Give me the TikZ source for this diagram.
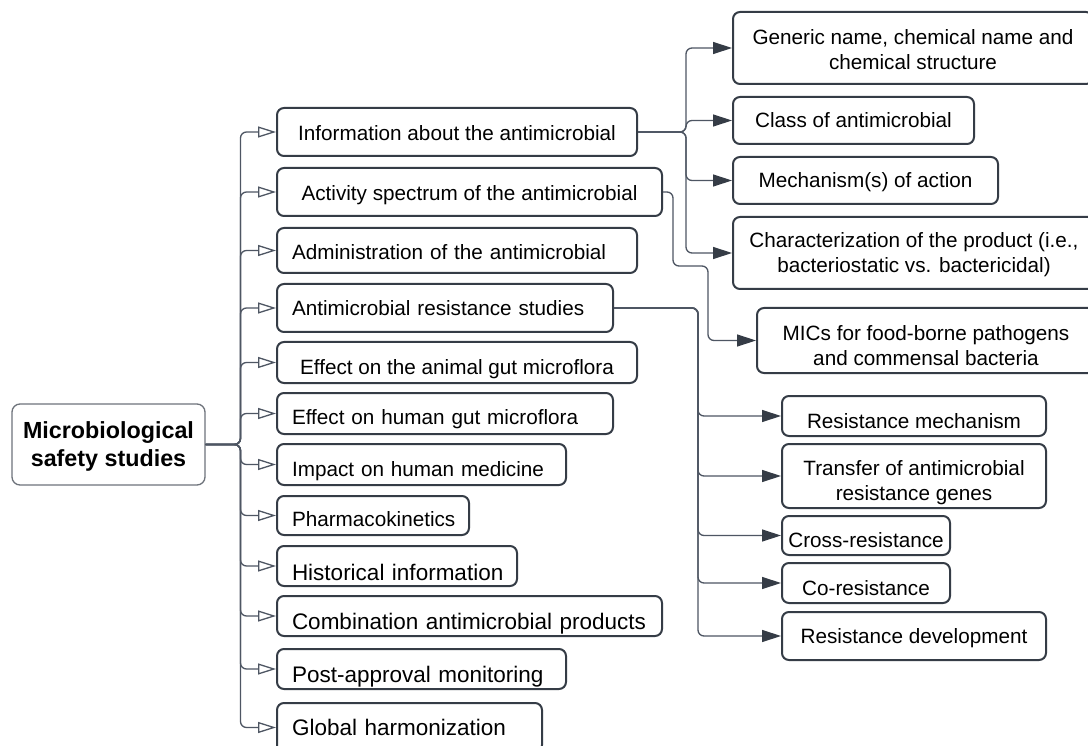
\documentclass[tikz,border=0pt]{standalone}
\usepackage{fontspec}
\setmainfont{Liberation Sans}
\usetikzlibrary{arrows.meta}
\definecolor{bordc}{HTML}{353C46}
\definecolor{linec}{HTML}{4E5663}
\definecolor{rootc}{HTML}{6E737B}
\newcommand{\dn}[2]{\raisebox{-#1pt}[\height][\depth]{#2}}
\newcommand{\twol}[1]{\begin{tabular}{@{}c@{}}#1\end{tabular}}
\tikzset{
  box/.style={draw=bordc, line width=2pt, rounded corners=7pt, inner sep=0pt, fill=white,
    font=\fontsize{20.7}{25}\selectfont},
  lbox/.style={box, align=left, inner xsep=15pt, text width=#1-30pt, minimum width=#1},
  cbox/.style={box, align=center, minimum width=#1},
  big/.style={font=\fontsize{22.5}{27}\selectfont},
  sl/.style={text height=#1, text depth=5pt},
  trunk/.style={draw=linec, line width=1.3pt, rounded corners=6pt,
    -{Triangle[open, length=18pt, width=11pt, fill=white]}},
  sub/.style={draw=linec, line width=1.3pt, rounded corners=6pt,
    -{Triangle[length=19pt, width=12pt, fill=bordc, color=bordc]}},
}
\begin{document}
\begin{tikzpicture}[x=1pt, y=-1pt]
\useasboundingbox[fill=white] (0,0) rectangle (1088,746);

% root
\node[draw=rootc, line width=1.3pt, rounded corners=8pt, minimum width=193pt, minimum height=81pt,
  inner sep=0pt, align=center, font=\bfseries\fontsize{23.3}{28}\selectfont]
  (root) at (108.5,444.5) {\dn{2.7}{\twol{Microbiological\\safety studies}}};

% level 1
\node[cbox=360pt, minimum height=48pt, sl=22pt] (info) at (457,132) {Information about the antimicrobial};
\node[cbox=385pt, minimum height=48pt, sl=22pt] (act) at (469.5,192) {Activity spectrum of the antimicrobial};
\node[lbox=360pt, minimum height=45pt, sl=23pt] (adm) at (457,250.5) {\mbox{Administration of the antimicrobial}};
\node[lbox=336pt, minimum height=48pt, sl=20pt] (ars) at (445,308) {\mbox{Antimicrobial resistance studies}};
\node[cbox=360pt, minimum height=41pt, sl=29pt] (ani) at (457,362.5) {Effect on the animal gut microflora};
\node[lbox=336pt, minimum height=41pt, sl=27pt] (hum) at (445,413.5) {\mbox{Effect on human gut microflora}};
\node[lbox=289pt, minimum height=41pt, sl=29pt] (imp) at (421.5,464.5) {\mbox{Impact on human medicine}};
\node[lbox=192pt, minimum height=39pt, sl=27pt] (pk) at (373,515.5) {\mbox{Pharmacokinetics}};
\node[lbox=240pt, minimum height=40pt, big, text height=33.7pt, text depth=5.6pt] (hist) at (397,566) {\mbox{Historical information}};
\node[lbox=385pt, minimum height=40pt, big, text height=31.7pt, text depth=5.6pt] (comb) at (469.5,616) {\mbox{Combination antimicrobial products}};
\node[lbox=289pt, minimum height=40pt, big, text height=31.7pt, text depth=5.6pt] (post) at (421.5,669) {\mbox{Post-approval monitoring}};
\node[lbox=265pt, minimum height=49pt, big, text height=21.7pt, text depth=5.6pt] (glob) at (409.5,727.5) {\mbox{Global harmonization}};

% level 2
\node[cbox=360pt, minimum height=72pt] (gen) at (913,48) {\dn{3.9}{\twol{Generic name, chemical name and\\chemical structure}}};
\node[cbox=241pt, minimum height=47pt, sl=20pt] (cls) at (853.5,120.5) {Class of antimicrobial};
\node[cbox=265pt, minimum height=47pt, sl=20pt] (mech) at (865.5,180.5) {Mechanism(s) of action};
\node[cbox=362pt, minimum height=72pt] (char) at (914,253) {\dn{2.4}{\twol{Characterization of the product (i.e.,\\bacteriostatic vs. bactericidal)}}};
\node[cbox=338pt, minimum height=65pt] (mic) at (926,340.5) {\dn{7.4}{\twol{MICs for food-borne pathogens\\and commensal bacteria}}};
\node[cbox=264pt, minimum height=40pt, sl=30pt] (rmech) at (914,416) {Resistance mechanism};
\node[cbox=264pt, minimum height=64pt] (trans) at (914,476) {\dn{6.9}{\twol{Transfer of antimicrobial\\resistance genes}}};
\node[cbox=168pt, minimum height=39pt, sl=29pt] (cross) at (866,535.5) {Cross-resistance};
\node[cbox=168pt, minimum height=40pt, sl=30pt] (cor) at (866,583) {Co-resistance};
\node[cbox=264pt, minimum height=48pt, sl=20pt] (rdev) at (914,636) {Resistance development};

% root connectors
\foreach \c in {info,act,adm,ars,ani,hum,imp,pk,hist,comb,post,glob}
  \draw[trunk] (root.east) -- (240.5,444.5) |- (\c.west);

% information connectors
\foreach \c in {gen,cls,mech,char}
  \draw[sub] (info.east) -- (686,132) |- (\c.west);

% activity connector
\draw[sub] (act.east) -- (673,192) |- (708,266) |- (mic.west);

% resistance connectors
\foreach \c in {rmech,trans,cross,cor,rdev}
  \draw[sub] (ars.east) -- (698,308) |- (\c.west);
\end{tikzpicture}
\end{document}
